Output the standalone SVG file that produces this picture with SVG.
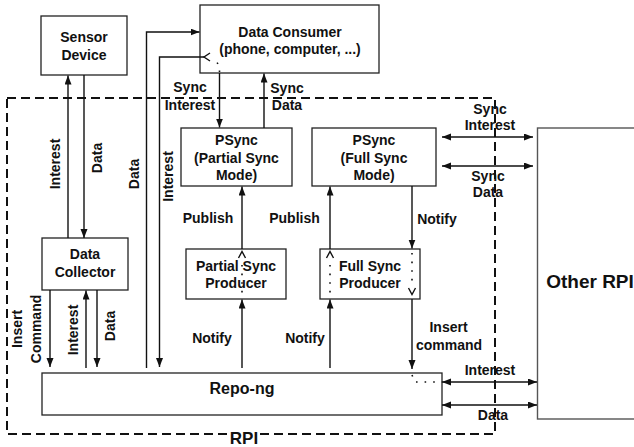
<svg xmlns="http://www.w3.org/2000/svg" width="634" height="447" viewBox="0 0 634 447">
<style>
  text { font-family: "Liberation Sans", Arial, sans-serif; font-weight: bold; fill: #111; font-size: 14px; text-anchor: middle; }
  .box { fill: #fff; stroke: #222; stroke-width: 1.3; }
  .conn { fill: none; stroke: #111; stroke-width: 1.4; }
  .arr { marker-end: url(#ah); }
  .dbl { marker-start: url(#ah); marker-end: url(#ah); }
  .dot { fill: none; stroke: #111; stroke-width: 1.6; stroke-dasharray: 1.6 7; }
  .chev { fill: none; stroke: #111; stroke-width: 1.4; }
</style>
<defs>
  <marker id="ah" markerUnits="userSpaceOnUse" markerWidth="10" markerHeight="8" refX="9" refY="3.5" orient="auto-start-reverse">
    <path d="M0,0 L9,3.5 L0,7 Z" fill="#111"/>
  </marker>
</defs>
<rect width="634" height="447" fill="#fff"/>

<!-- RPI boundary -->
<g id="rpi-boundary">
  <rect x="7" y="98" width="488" height="336" fill="none" stroke="#111" stroke-width="2" stroke-dasharray="9 5"/>
  <rect x="228" y="428" width="32" height="19" fill="#fff"/>
  <text x="244" y="444" style="font-size:17px">RPI</text>
</g>

<g id="sensor-device">
  <rect class="box" x="41" y="16" width="86" height="59"/>
  <text x="84" y="42">Sensor</text>
  <text x="84" y="60">Device</text>
</g>

<g id="data-consumer">
  <rect class="box" x="200" y="5" width="179" height="68"/>
  <text x="290" y="37">Data Consumer</text>
  <text x="290" y="54">(phone, computer, ...)</text>
</g>

<g id="psync-partial">
  <rect class="box" x="181" y="128" width="111" height="58"/>
  <text x="236.5" y="145">PSync</text>
  <text x="236.5" y="162.5">(Partial Sync</text>
  <text x="236.5" y="180">Mode)</text>
</g>

<g id="psync-full">
  <rect class="box" x="312" y="128" width="124" height="58"/>
  <text x="374" y="145">PSync</text>
  <text x="374" y="162.5">(Full Sync</text>
  <text x="374" y="180">Mode)</text>
</g>

<g id="partial-sync-producer">
  <rect class="box" x="186" y="249" width="100" height="50"/>
  <text x="236" y="271">Partial Sync</text>
  <text x="236" y="288">Producer</text>
</g>

<g id="full-sync-producer">
  <rect class="box" x="320" y="249" width="100" height="50"/>
  <text x="370" y="271">Full Sync</text>
  <text x="370" y="288">Producer</text>
</g>

<g id="data-collector">
  <rect class="box" x="42" y="238" width="86" height="52"/>
  <text x="85" y="259">Data</text>
  <text x="85" y="277">Collector</text>
</g>

<g id="repo-ng">
  <rect class="box" x="42" y="373" width="400" height="42"/>
  <text x="242" y="394" style="font-size:16px">Repo-ng</text>
</g>

<g id="other-rpi">
  <rect x="537.5" y="128" width="110" height="291" fill="#fff" stroke="#555" stroke-width="1.4"/>
  <text x="590" y="288" style="font-size:19px">Other RPI</text>
</g>

<g id="connectors">
  <!-- Sensor <-> Data Collector -->
  <path class="conn arr" d="M68,238 V75.5"/>
  <path class="conn arr" d="M84,75 V238"/>
  <text transform="translate(60,164) rotate(-90)">Interest</text>
  <text transform="translate(102,158) rotate(-90)">Data</text>

  <!-- Repo-ng <-> Data Consumer -->
  <path class="conn arr" d="M146.5,368 V32 H199.5"/>
  <text transform="translate(139,174) rotate(-90)">Data</text>
  <path class="conn arr" d="M204,57 H159.5 V367"/>
  <polyline class="chev" points="210,53 204,57 210,61"/>
  <path class="dot" d="M219.5,72 V66 L213,57"/>
  <text transform="translate(173,176.5) rotate(-90)">Interest</text>

  <!-- Data Consumer <-> PSync partial -->
  <path class="conn arr" d="M219.5,73 V127.5"/>
  <text x="190" y="92">Sync</text>
  <text x="190" y="110">Interest</text>
  <path class="conn arr" d="M264,128 V73.5"/>
  <text x="287" y="93">Sync</text>
  <text x="287" y="110">Data</text>

  <!-- Partial producer -->
  <path class="conn arr" d="M242,249 V186.5"/>
  <text x="208" y="223">Publish</text>
  <path class="conn arr" d="M242,368 V299.5"/>
  <text x="212" y="343">Notify</text>
  <polyline class="chev" points="238.5,258 242,251.5 245.5,258"/>
  <path class="dot" d="M242,265 V296"/>

  <!-- Full producer -->
  <path class="conn arr" d="M330,249 V186.5"/>
  <text x="294.5" y="223">Publish</text>
  <path class="conn arr" d="M412,186 V248.5"/>
  <text x="437" y="224">Notify</text>
  <path class="conn arr" d="M330,368 V299.5"/>
  <text x="305" y="343">Notify</text>
  <polyline class="chev" points="326.5,258 330,251.5 333.5,258"/>
  <path class="dot" d="M330,265 V298"/>
  <path class="dot" d="M412,253 V286"/>
  <polyline class="chev" points="408.5,288 412,294.5 415.5,288"/>

  <!-- Insert command -->
  <path class="conn arr" d="M412,299 V369"/>
  <path class="dot" d="M412,375 L415,382 H442"/>
  <text x="448.5" y="332">Insert</text>
  <text x="449" y="350">command</text>

  <!-- Data Collector <-> Repo-ng -->
  <path class="conn arr" d="M50,290 V367"/>
  <path class="conn arr" d="M86,368 V290.5"/>
  <path class="conn arr" d="M97,290 V367"/>
  <text transform="translate(22,329) rotate(-90)">Insert</text>
  <text transform="translate(41,329) rotate(-90)">Command</text>
  <text transform="translate(78,330) rotate(-90)">Interest</text>
  <text transform="translate(115,326) rotate(-90)">Data</text>

  <!-- To Other RPI -->
  <path class="conn dbl" d="M442,137 H533"/>
  <text x="490" y="114">Sync</text>
  <text x="490" y="130">Interest</text>
  <path class="conn dbl" d="M442,166 H533"/>
  <text x="488" y="181">Sync</text>
  <text x="488" y="197">Data</text>
  <path class="conn dbl" d="M442,382 H537"/>
  <text x="490" y="375">Interest</text>
  <path class="conn dbl" d="M442,405 H537"/>
  <text x="493" y="420">Data</text>
</g>
</svg>
